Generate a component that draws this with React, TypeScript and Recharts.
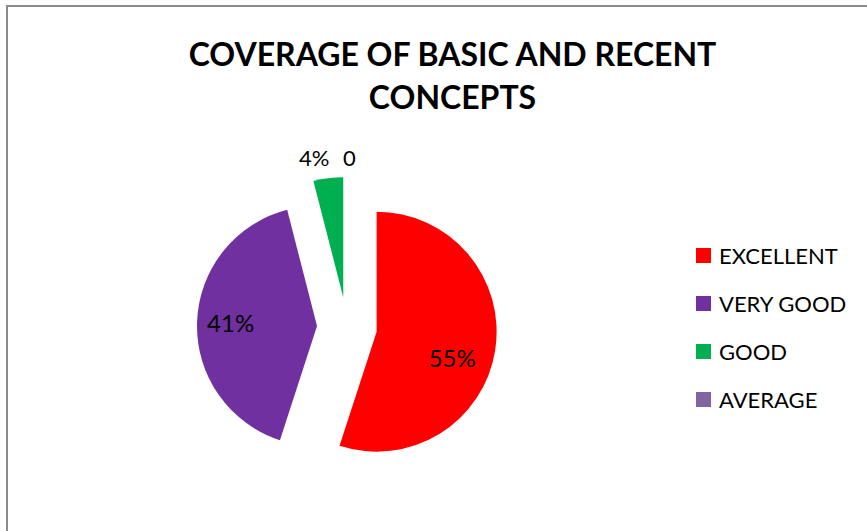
import React from 'react';
import { PieChart, Pie, Cell, Legend } from 'recharts';

const categories = ['EXCELLENT', 'VERY GOOD', 'GOOD', 'AVERAGE'];
const values = [55, 41, 4, 0];
const dataLabels = ['55%', '41%', '4%', '0'];
const colors = ['#ff0000', '#7030a0', '#00b050', '#8064a2'];

const data = categories.map((name, i) => ({ name, value: values[i] }));

const W = 867;
const H = 531;
const CENTER = { x: 342, y: 322 };
const R = 120;
const EXPLODE = 30;
const FONT = 'Lato, "Open Sans", sans-serif';

// label placement per slice: radius factor, anchor, nudge, size
const labelCfg = [
  { k: 0.68, anchor: 'middle', dx: -5, dy: 13, size: 24 },
  { k: 0.72, anchor: 'middle', dx: 0, dy: -1, size: 24 },
  { k: 1.18, anchor: 'end', dx: 4, dy: 1, size: 22 },
  { k: 1.18, anchor: 'start', dx: -4, dy: 2, size: 22 },
];

const total = values.reduce((a, b) => a + b, 0);

// mid angle in recharts degrees (start 90, clockwise)
const midAngles = values.map((v, i) => {
  const before = values.slice(0, i).reduce((a, b) => a + b, 0);
  return 90 - ((before + v / 2) / total) * 360;
});

const RAD = Math.PI / 180;

const makeLabel = (idx: number) => (props: any) => {
  if (props.index !== idx) return null;
  const c = labelCfg[idx];
  const r = props.outerRadius * c.k;
  const x = props.cx + r * Math.cos(-props.midAngle * RAD) + c.dx;
  const y = props.cy + r * Math.sin(-props.midAngle * RAD) + c.dy;
  return (
    <text
      x={x}
      y={y}
      textAnchor={c.anchor}
      dominantBaseline="central"
      fill="#000"
      fontSize={c.size}
      fontFamily={FONT}
    >
      {dataLabels[idx]}
    </text>
  );
};

const LegendBox = () => (
  <div style={{ fontFamily: FONT, fontSize: 22, color: '#000' }}>
    {categories.map((c, i) => (
      <div key={c} style={{ display: 'flex', alignItems: 'center', height: 48 }}>
        <span style={{ width: 15, height: 15, background: colors[i], marginRight: 8, display: 'inline-block' }} />
        <span>{c}</span>
      </div>
    ))}
  </div>
);

export default function App() {
  return (
    <div style={{ position: 'fixed', left: 0, top: 0, width: W, height: H, overflow: 'hidden', background: '#fff' }}>
      <div
        style={{
          position: 'absolute',
          left: 0,
          top: 32,
          width: 905,
          textAlign: 'center',
          fontFamily: FONT,
          fontWeight: 700,
          fontSize: 32,
          lineHeight: '43px',
          color: '#000',
        }}
      >
        COVERAGE OF BASIC AND RECENT
        <br />
        CONCEPTS
      </div>
      <PieChart width={W} height={H}>
        {categories.map((_, idx) => {
          const m = midAngles[idx];
          const cx = CENTER.x + EXPLODE * Math.cos(m * RAD);
          const cy = CENTER.y - EXPLODE * Math.sin(m * RAD);
          return (
            <Pie
              key={idx}
              data={data}
              dataKey="value"
              nameKey="name"
              cx={cx}
              cy={cy}
              outerRadius={R}
              startAngle={90}
              endAngle={-270}
              stroke="none"
              label={makeLabel(idx)}
              labelLine={false}
              isAnimationActive={false}
            >
              {data.map((d, i) => (
                <Cell key={d.name} fill={i === idx ? colors[i] : 'none'} stroke="none" />
              ))}
            </Pie>
          );
        })}
        <Legend
          layout="vertical"
          align="right"
          verticalAlign="top"
          wrapperStyle={{ left: 696, top: 231, width: 170 }}
          content={() => <LegendBox />}
        />
      </PieChart>
      <div
        style={{
          position: 'absolute',
          left: 6,
          top: 5,
          width: 900,
          height: 600,
          border: '2px solid #8a8a8a',
          pointerEvents: 'none',
        }}
      />
    </div>
  );
}
